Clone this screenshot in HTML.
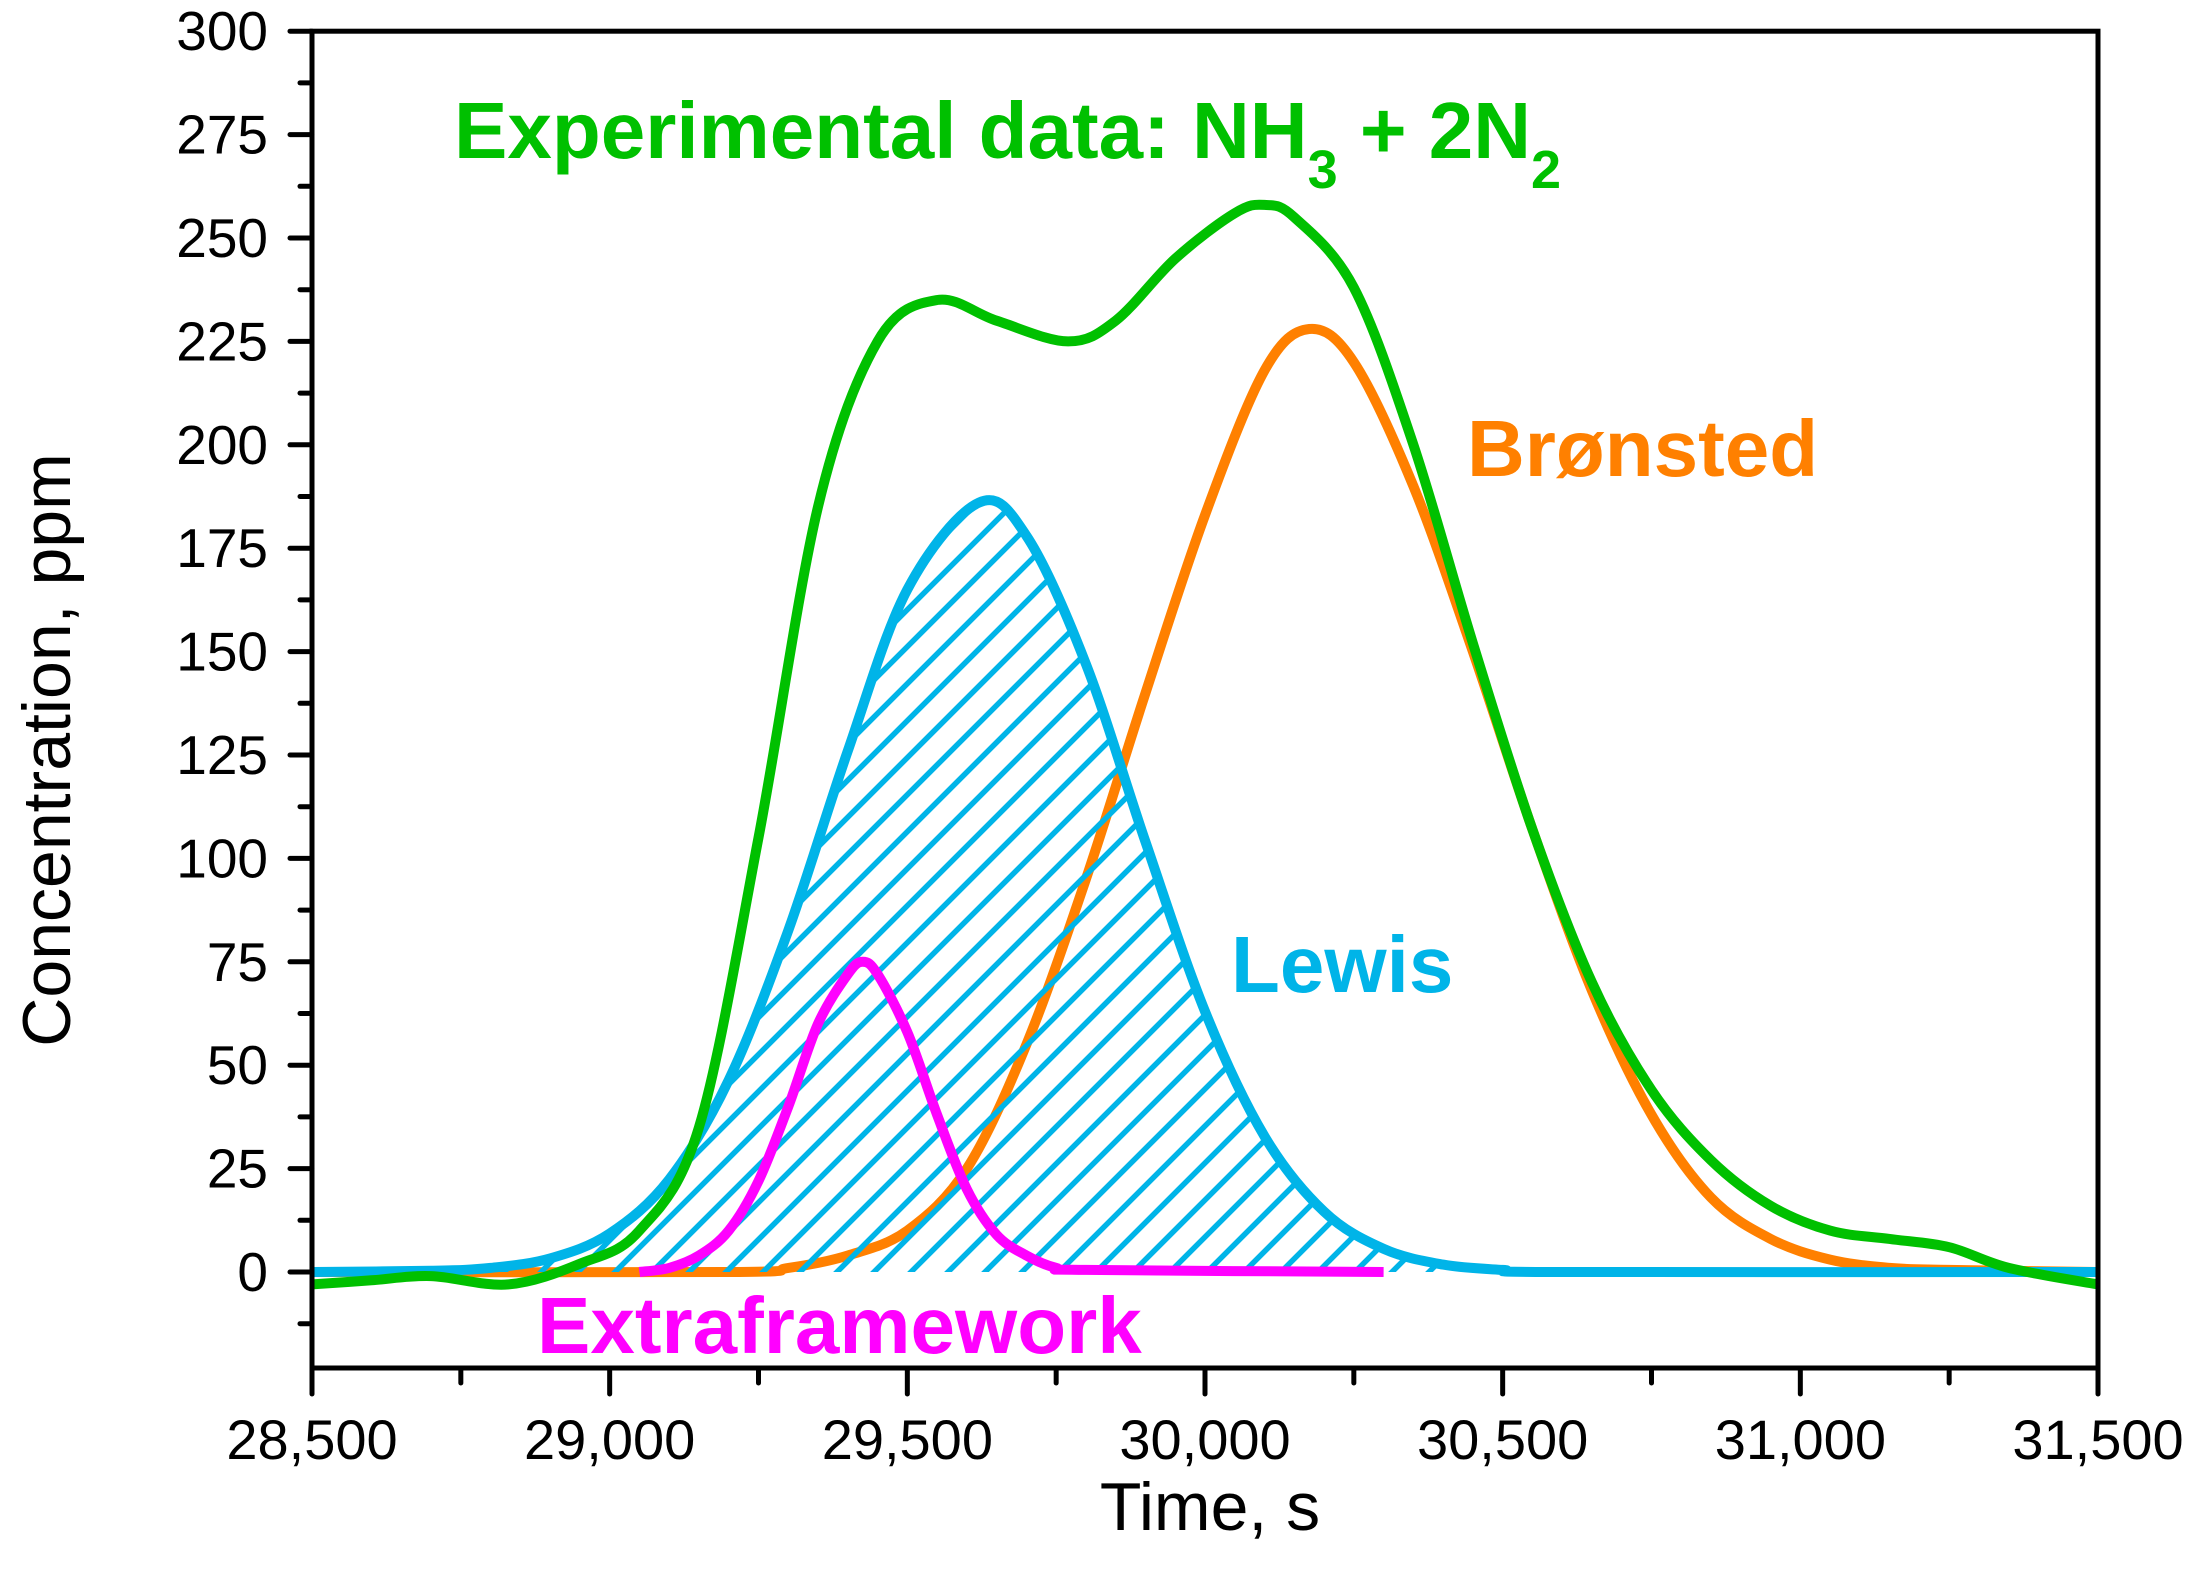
<!DOCTYPE html>
<html><head><meta charset="utf-8"><style>
html,body{margin:0;padding:0;background:#fff;}
svg{display:block;font-family:"Liberation Sans",Arial,sans-serif;}
</style></head><body>
<svg id="chart" width="2195" height="1588" viewBox="0 0 2195 1588" xmlns="http://www.w3.org/2000/svg">
<defs>
<pattern id="hatch" patternUnits="userSpaceOnUse" width="37" height="37">
<path d="M-5,42 L42,-5 M-5,5 L5,-5 M32,42 L42,32" stroke="#00B4E8" stroke-width="5.5"/>
</pattern>
<clipPath id="plotclip"><rect x="314" y="33" width="1782" height="1333"/></clipPath>
</defs>
<g id="series" clip-path="url(#plotclip)"></g>
<g id="axes"></g>
<text x="0" y="0" font-size="68" text-anchor="middle" transform="translate(70,750) rotate(-90)">Concentration, ppm</text>
<text x="1210" y="1530" font-size="68" text-anchor="middle">Time, s</text>
<text x="454" y="158" font-size="80" font-weight="bold" fill="#00C000">Experimental data: NH<tspan font-size="54" dy="30">3</tspan><tspan dy="-30"> + 2N</tspan><tspan font-size="54" dy="30">2</tspan></text>
<text x="1467" y="476" font-size="80" font-weight="bold" fill="#FF8000">Brønsted</text>
<text x="1231" y="992" font-size="80" font-weight="bold" fill="#00B4E8">Lewis</text>
<text x="537" y="1353" font-size="80" font-weight="bold" fill="#FF00FF">Extraframework</text>
</svg>
<script>
const xTicks=[28500,29000,29500,30000,30500,31000,31500];
const xTickLabels=["28,500","29,000","29,500","30,000","30,500","31,000","31,500"];
const yTicks=[0,25,50,75,100,125,150,175,200,225,250,275,300];
const expX=[28500,28600,28700,28830,28950,29050,29150,29250,29350,29450,29550,29650,29770,29850,29950,30050,30100,30150,30250,30350,30450,30550,30650,30750,30850,30950,31050,31150,31250,31350,31500];
const expY=[-3,-2,-1,-3,2,10,35,105,185,225,235,230,225,230,245,256,258,255,238,200,152,107,70,44,27,16,10,8,6,1,-3];
const bronX=[28500,29200,29300,29400,29500,29600,29700,29800,29900,30000,30100,30175,30250,30350,30450,30550,30650,30750,30850,30950,31050,31150,31250,31500];
const bronY=[0,0,1,4,10,25,55,95,140,183,218,228,220,190,150,107,68,38,18,8,3,1,0.5,0];
const lewisX=[28500,28700,28800,28900,29000,29100,29200,29300,29400,29500,29620,29700,29800,29900,30000,30100,30200,30300,30400,30500,30600,31500];
const lewisY=[0,0.3,1,3.3,9.3,22.4,46.4,82.6,126,165,186,178,147,104,63,32.8,14.6,5.6,1.8,0.5,0,0];
const extraX=[29050,29100,29150,29200,29250,29300,29350,29400,29425,29450,29500,29550,29600,29650,29700,29750,29800,30300];
const extraY=[0,1,4,10,22,40,60,72,75,72,58,38,20,9,4,1,0.5,0];

const X0=312,X1=2098,Y0=1272,YBOT=1368;
const sx=v=>X0+(v-28500)/3000*(X1-X0);
const sy=v=>Y0-v*(103.4/25);
const NS="http://www.w3.org/2000/svg";
function smooth(xs,ys){
  const p=xs.map((x,i)=>[sx(x),sy(ys[i])]);
  let d="M"+p[0][0].toFixed(1)+","+p[0][1].toFixed(1);
  for(let i=0;i<p.length-1;i++){
    const p0=p[i-1]||p[i],p1=p[i],p2=p[i+1],p3=p[i+2]||p2;
    const c1=[p1[0]+(p2[0]-p0[0])/6,p1[1]+(p2[1]-p0[1])/6];
    const c2=[p2[0]-(p3[0]-p1[0])/6,p2[1]-(p3[1]-p1[1])/6];
    d+=" C"+c1[0].toFixed(1)+","+c1[1].toFixed(1)+" "+c2[0].toFixed(1)+","+c2[1].toFixed(1)+" "+p2[0].toFixed(1)+","+p2[1].toFixed(1);
  }
  return d;
}
const series=document.getElementById('series');
const axes=document.getElementById('axes');
function mk(tag,attrs,parent){const e=document.createElementNS(NS,tag);for(const k in attrs)e.setAttribute(k,attrs[k]);parent.appendChild(e);return e;}

const g=mk('path',{d:smooth(expX,expY),fill:"none",stroke:"#00C000","stroke-width":10},series);


const b=mk('path',{d:smooth(bronX,bronY),fill:"none",stroke:"#FF8000","stroke-width":10},series);


let area=smooth(lewisX,lewisY)+" L"+sx(31500)+","+sy(0)+" L"+sx(28500)+","+sy(0)+" Z";
const hatch=mk('path',{d:area,fill:"url(#hatch)"},series);


const l=mk('path',{d:smooth(lewisX,lewisY),fill:"none",stroke:"#00B4E8","stroke-width":10},series);


const m=mk('path',{d:smooth(extraX,extraY),fill:"none",stroke:"#FF00FF","stroke-width":10},series);


series.appendChild(g);

const fr=mk('rect',{x:X0,y:sy(300),width:X1-X0,height:YBOT-sy(300),fill:"none",stroke:"#000","stroke-width":5},axes);


for(let v=-12.5;v<=300;v+=12.5){
  const major=Math.abs(v%25)<1e-6;
  const y=sy(v);
  const t=mk('line',{x1:major?290:300,x2:X0,y1:y,y2:y,stroke:"#000","stroke-width":5,"stroke-linecap":"round"},axes);
  
  
}
yTicks.forEach(v=>{
  const t=mk('text',{x:268,y:sy(v)+19,"font-size":55,"text-anchor":"end"},axes);
  t.textContent=v;
  
  
});
for(let v=28500;v<=31500;v+=250){
  const major=v%500===0;
  const x=sx(v);
  const t=mk('line',{x1:x,x2:x,y1:YBOT,y2:major?YBOT+26:YBOT+15,stroke:"#000","stroke-width":5,"stroke-linecap":"round"},axes);
  
  
}
xTicks.forEach((v,i)=>{
  const t=mk('text',{x:sx(v),y:1459,"font-size":56,"text-anchor":"middle"},axes);
  t.textContent=xTickLabels[i];
  
  
});
</script>
</body></html>
